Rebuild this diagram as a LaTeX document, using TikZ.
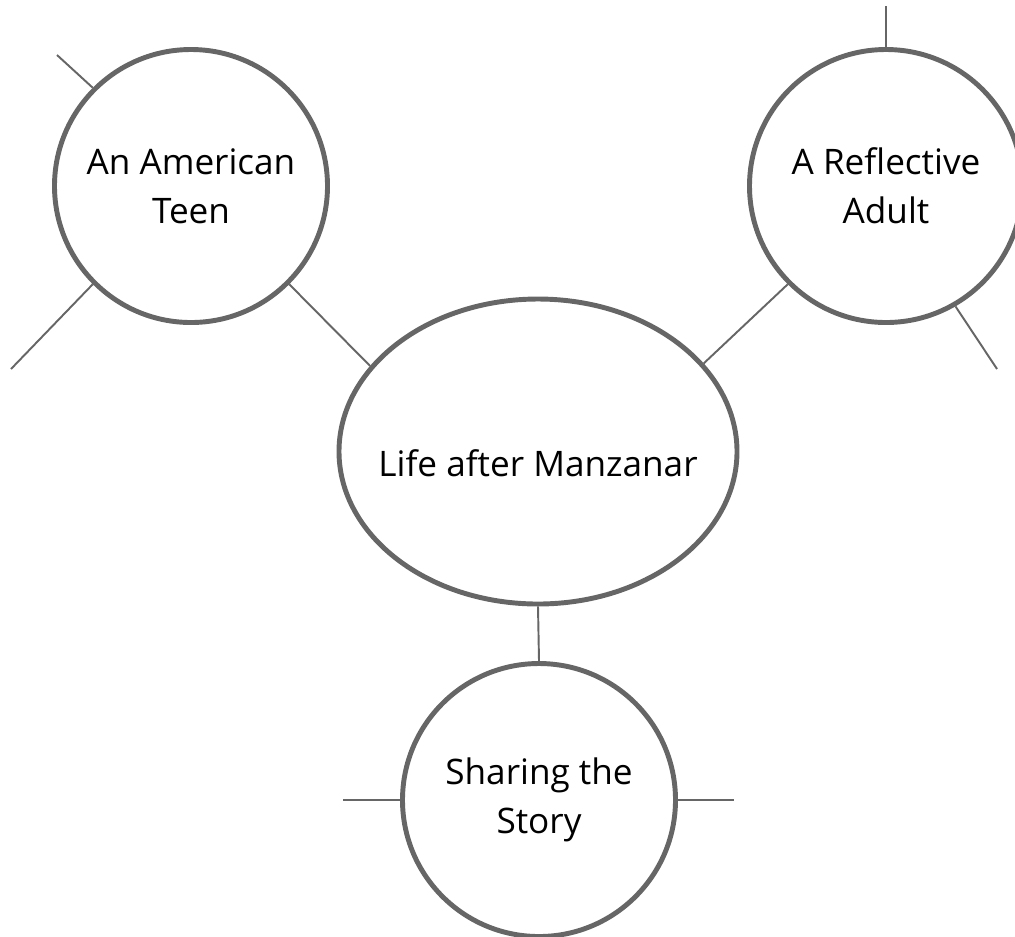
\documentclass[tikz,border=0pt]{standalone}
\usepackage{fontspec}
\setmainfont{Open Sans}
\usepackage{tikz}
\usetikzlibrary{
  shapes,
  shapes.geometric,
  calc,
  positioning
}
\definecolor{ringgray}{HTML}{666666}

\begin{document}
\begin{tikzpicture}[
    bubble/.style={circle,draw=ringgray,fill=white,line width=2.8pt,minimum size=5.46cm,
      inner sep=0pt,align=center,font=\fontsize{20}{28}\selectfont},
    hub/.style={ellipse,draw=ringgray,fill=white,line width=2.8pt,minimum width=7.96cm,
      minimum height=6.1cm,inner sep=0pt,font=\fontsize{20}{28}\selectfont},
    twig/.style={draw=ringgray,line width=1.1pt}
  ]
  \useasboundingbox (0,0) rectangle (20.3,-18.72);
  \node[hub] (main) at (10.76,-9.03)
    {\raisebox{-0.24cm}[\height][\depth]{\makebox[0pt]{Life after Manzanar}}};
  \node[bubble] (teen) at (3.82,-3.72) {An American\\Teen};
  \node[bubble] (adult) at (17.72,-3.72) {A Reflective\\Adult};
  \node[bubble] (story) at (10.78,-16.0) {Sharing the\\Story};
  \coordinate (teen-nw) at (1.14,-1.10);
  \coordinate (teen-sw) at (0.22,-7.38);
  \coordinate (adult-n) at (17.72,-0.12);
  \coordinate (adult-se) at (19.94,-7.38);
  \coordinate (story-w) at (6.86,-16.0);
  \coordinate (story-e) at (14.68,-16.0);
  \draw[twig] (teen.-45) -- (main.153);
  \draw[twig] (adult.-135) -- (main.28);
  \draw[twig] (main.south) -- (story.north);
  \draw[twig] (teen.135) -- (teen-nw);
  \draw[twig] (teen.-135) -- (teen-sw);
  \draw[twig] (adult.north) -- (adult-n);
  \draw[twig] (adult.-60) -- (adult-se);
  \draw[twig] (story.west) -- (story-w);
  \draw[twig] (story.east) -- (story-e);
\end{tikzpicture}
\end{document}
